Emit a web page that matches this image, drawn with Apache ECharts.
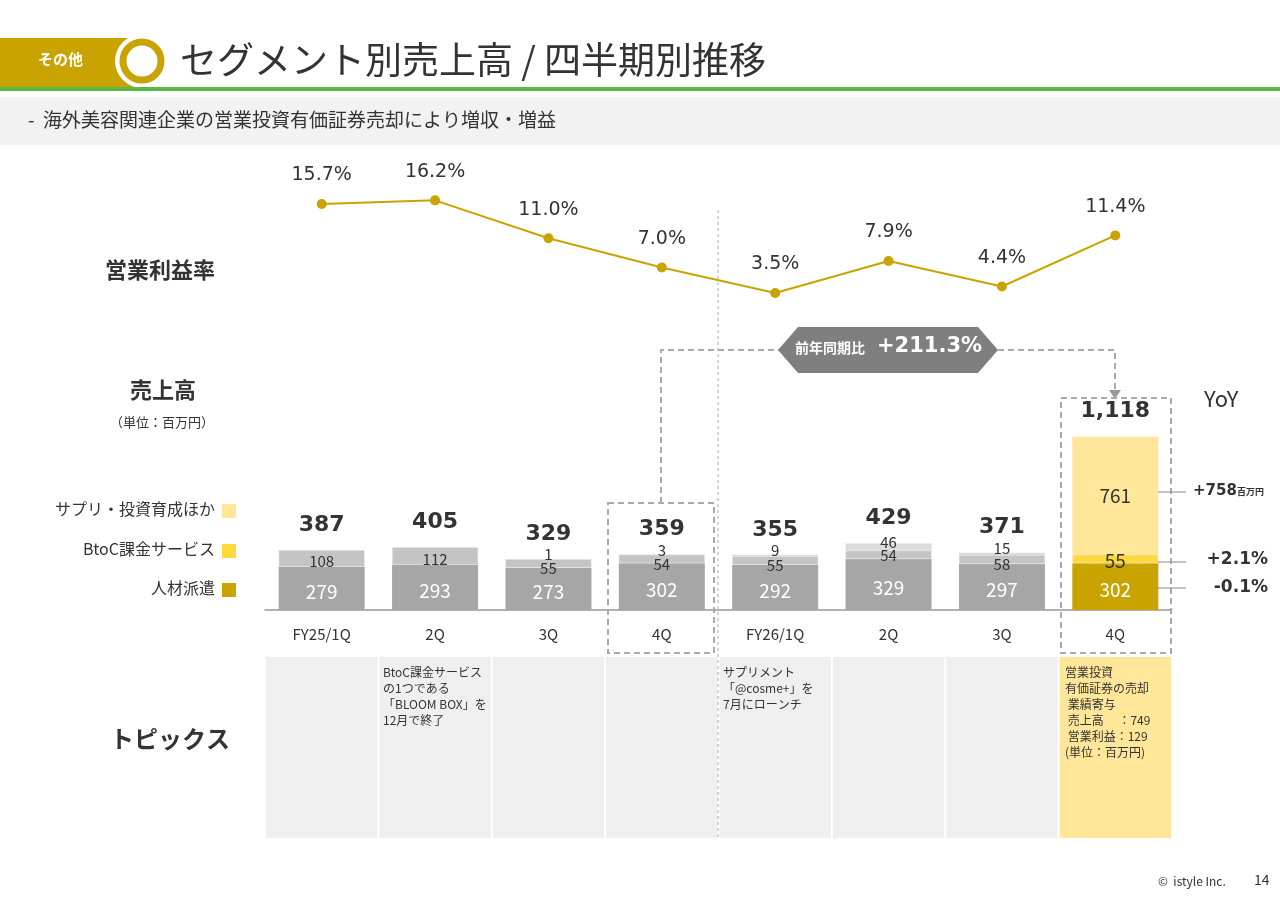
<!DOCTYPE html>
<html>
<head>
<meta charset="utf-8">
<title>セグメント別売上高</title>
<script src="https://cdn.jsdelivr.net/npm/echarts@6/dist/echarts.min.js"></script>
<style>
html,body{margin:0;padding:0;background:#fff;}
#main{width:1280px;height:904px;}
</style>
</head>
<body>
<div id="main"></div>
<script>
// データ
var quarters = ['FY25/1Q', '2Q', '3Q', '4Q', 'FY26/1Q', '2Q', '3Q', '4Q'];
var staffing = [279, 293, 273, 302, 292, 329, 297, 302];   // 人材派遣
var btoc = [108, 112, 55, 54, 55, 54, 58, 55];             // BtoC課金サービス
var supple = [0, 0, 1, 3, 9, 46, 15, 761];                 // サプリ・投資育成ほか
var totals = ['387', '405', '329', '359', '355', '429', '371', '1,118'];
var margin = [15.7, 16.2, 11.0, 7.0, 3.5, 7.9, 4.4, 11.4]; // 営業利益率(%)

var font = '"Noto Sans CJK JP", "Noto Sans", sans-serif';
var gold = '#c9a300';
var last = quarters.length - 1;
var chart = echarts.init(document.getElementById('main'));

var L = 265, R = 1172, colW = (R - L) / quarters.length;
function segColor(greys, golds) {
    return function(p) { return p.dataIndex === last ? golds : greys; };
}

// トピックス欄
var topicCells = [];
for (var i = 0; i < quarters.length; i++) {
    topicCells.push({
        type: 'rect', shape: {x: L + i * colW + 1, y: 657, width: colW - 2, height: 181},
        style: {fill: i === last ? '#ffe699' : '#efefef'}, z: 0
    });
}
var topicText = function(x, txt) {
    return {type: 'text', left: x, top: 664, z: 5,
        style: {text: txt, font: '12px ' + font, fill: '#333', lineHeight: 16}};
};

// サプリ系列：小さい値はバーの上、最終期は内側
var suppleData = supple.map(function(v, i) {
    if (i === last) return {value: v, label: {position: 'inside', fontSize: 19}};
    return {value: v, label: {position: 'top', distance: 0, offset: [0, supple[i] > 20 ? 6 : 3]}};
});
var btocData = btoc.map(function(v, i) {
    if (i === last) return {value: v, label: {fontSize: 19, offset: [0, 2]}};
    return {value: v, label: {offset: [0, supple[i] > 20 ? 0 : (supple[i] > 0 ? 5 : 3)]}};
});

var g = [
    // ヘッダー
    {type: 'rect', shape: {x: 0, y: 38, width: 135, height: 51}, style: {fill: gold}},
    {type: 'text', left: 38, top: 52, style: {text: 'その他', font: 'bold 15px ' + font, fill: '#fff'}},
    {type: 'circle', shape: {cx: 142, cy: 61, r: 27}, style: {fill: '#fff'}},
    {type: 'circle', shape: {cx: 142, cy: 61, r: 19}, style: {fill: '#fff', stroke: gold, lineWidth: 7}},
    {type: 'text', left: 180, top: 41, style: {text: 'セグメント別売上高 / 四半期別推移', font: '37px ' + font, fill: '#333'}},
    {type: 'rect', shape: {x: 0, y: 87, width: 1280, height: 4}, style: {fill: '#5ab946'}},
    {type: 'rect', shape: {x: 0, y: 97, width: 1280, height: 48}, style: {fill: '#f2f2f2'}},
    {type: 'text', left: 28, top: 110, style: {text: '-  海外美容関連企業の営業投資有価証券売却により増収・増益', font: '19px ' + font, fill: '#333'}},
    // 左側ラベル
    {type: 'text', left: 105, top: 259, style: {text: '営業利益率', font: 'bold 22px ' + font, fill: '#333'}},
    {type: 'text', left: 130, top: 379, style: {text: '売上高', font: 'bold 22px ' + font, fill: '#333'}},
    {type: 'text', left: 110, top: 416, style: {text: '（単位：百万円）', font: '13px ' + font, fill: '#333'}},
    {type: 'text', right: 1065, top: 501, style: {text: 'サプリ・投資育成ほか', font: '16px ' + font, fill: '#333'}},
    {type: 'rect', shape: {x: 222, y: 504, width: 14, height: 14}, style: {fill: '#ffe699'}},
    {type: 'text', right: 1065, top: 541, style: {text: 'BtoC課金サービス', font: '16px ' + font, fill: '#333'}},
    {type: 'rect', shape: {x: 222, y: 544, width: 14, height: 14}, style: {fill: '#ffd939'}},
    {type: 'text', right: 1065, top: 580, style: {text: '人材派遣', font: '16px ' + font, fill: '#333'}},
    {type: 'rect', shape: {x: 222, y: 583, width: 14, height: 14}, style: {fill: gold}},
    {type: 'text', left: 110, top: 727, style: {text: 'トピックス', font: 'bold 24px ' + font, fill: '#333'}},
    // 区切り線
    {type: 'line', shape: {x1: 718, y1: 210, x2: 718, y2: 838}, style: {stroke: '#aaa', lineWidth: 1, lineDash: [3, 3]}, z: 1},
    // 点線枠と前年同期比
    {type: 'rect', shape: {x: 608, y: 503, width: 106, height: 150}, style: {fill: 'none', stroke: '#aaa', lineWidth: 2, lineDash: [6, 4]}, z: 6},
    {type: 'rect', shape: {x: 1061, y: 398, width: 110, height: 255}, style: {fill: 'none', stroke: '#aaa', lineWidth: 2, lineDash: [6, 4]}, z: 6},
    {type: 'polyline', shape: {points: [[661, 503], [661, 350], [780, 350]]}, style: {fill: 'none', stroke: '#aaa', lineWidth: 2, lineDash: [6, 4]}},
    {type: 'polyline', shape: {points: [[998, 350], [1115, 350], [1115, 390]]}, style: {fill: 'none', stroke: '#aaa', lineWidth: 2, lineDash: [6, 4]}},
    {type: 'polygon', shape: {points: [[1109, 390], [1121, 390], [1115, 399]]}, style: {fill: '#999'}},
    {type: 'polygon', shape: {points: [[778, 350], [798, 327], [978, 327], [998, 350], [978, 373], [798, 373]]}, style: {fill: '#7f7f7f'}},
    {type: 'text', left: 795, top: 341, style: {text: '前年同期比', font: 'bold 14px ' + font, fill: '#fff'}},
    {type: 'text', left: 877, top: 336, style: {text: '+211.3%', font: 'bold 21px "DejaVu Sans", sans-serif', fill: '#fff'}},
    // YoY
    {type: 'text', left: 1204, top: 388, style: {text: 'YoY', font: '22px ' + font, fill: '#333'}},
    {type: 'line', shape: {x1: 1158, y1: 492, x2: 1186, y2: 492}, style: {stroke: '#888', lineWidth: 1}, z: 7},
    {type: 'line', shape: {x1: 1158, y1: 562, x2: 1186, y2: 562}, style: {stroke: '#888', lineWidth: 1}, z: 7},
    {type: 'line', shape: {x1: 1158, y1: 588, x2: 1186, y2: 588}, style: {stroke: '#888', lineWidth: 1}, z: 7},
    {type: 'text', left: 1193, top: 484, style: {rich: {a: {font: 'bold 15px "DejaVu Sans", sans-serif', fill: '#333'}, b: {font: 'bold 9px ' + font, fill: '#333'}}, text: '{a|+758}{b|百万円}'}},
    {type: 'text', right: 12, top: 551, style: {text: '+2.1%', font: 'bold 17px "DejaVu Sans", sans-serif', fill: '#333'}},
    {type: 'text', right: 12, top: 579, style: {text: '-0.1%', font: 'bold 17px "DejaVu Sans", sans-serif', fill: '#333'}},
    // トピックス
    topicText(383, 'BtoC課金サービス\nの1つである\n「BLOOM BOX」を\n12月で終了'),
    topicText(723, 'サプリメント\n「@cosme+」を\n7月にローンチ'),
    topicText(1065, '営業投資\n有価証券の売却\n 業績寄与\n 売上高　 ：749\n 営業利益：129\n(単位：百万円)'),
    {type: 'text', left: 1158, top: 875, style: {text: '©  istyle Inc.', font: '12px ' + font, fill: '#333'}},
    {type: 'text', left: 1254, top: 873, style: {text: '14', font: '14px ' + font, fill: '#333'}}
].concat(topicCells);

var option = {
    animation: false,
    textStyle: {fontFamily: font},
    graphic: g,
    grid: [
        {left: L, width: R - L, top: 424, height: 186},
        {left: L, width: R - L, top: 158, height: 160.6}
    ],
    xAxis: [
        {type: 'category', gridIndex: 0, data: quarters, axisTick: {show: false},
            axisLine: {lineStyle: {color: '#999', width: 1.5}},
            axisLabel: {margin: 17, fontSize: 15, color: '#333'}},
        {type: 'category', gridIndex: 1, data: quarters, show: false}
    ],
    yAxis: [
        {type: 'value', gridIndex: 0, min: 0, max: 1200, show: false},
        {type: 'value', gridIndex: 1, min: 0, max: 22, show: false}
    ],
    series: [
        {name: '人材派遣', type: 'bar', stack: 's', barWidth: 86, data: staffing,
            itemStyle: {color: segColor('#a6a6a6', gold)},
            label: {show: true, position: 'inside', offset: [0, 3], fontSize: 19, color: '#fff'}},
        {name: 'BtoC課金サービス', type: 'bar', stack: 's', data: btocData,
            itemStyle: {color: segColor('#c4c4c4', '#ffd939'), borderColor: '#e8e8e8', borderWidth: 0.5},
            label: {show: true, position: 'inside', fontSize: 15, color: '#333'}},
        {name: 'サプリ・投資育成ほか', type: 'bar', stack: 's', data: suppleData,
            itemStyle: {color: segColor('#dcdcdc', '#ffe699')},
            label: {show: true, fontSize: 15, color: '#333',
                formatter: function(p) { return p.value ? String(p.value) : ''; }}},
        {name: 'total', type: 'bar', stack: 's', data: [0, 0, 0, 0, 0, 0, 0, 0],
            label: {show: true, position: 'top', distance: 14, fontSize: 22, fontWeight: 'bold', color: '#333',
                fontFamily: '"DejaVu Sans", sans-serif',
                formatter: function(p) { return totals[p.dataIndex]; }}},
        {name: '営業利益率', type: 'line', xAxisIndex: 1, yAxisIndex: 1, data: margin,
            symbol: 'circle', symbolSize: 10, lineStyle: {color: gold, width: 2}, itemStyle: {color: gold},
            label: {show: true, position: 'top', distance: 14, fontSize: 19, color: '#333',
                fontFamily: '"DejaVu Sans", sans-serif',
                formatter: function(p) { return p.value.toFixed(1) + '%'; }}}
    ]
};
chart.setOption(option);
</script>
</body>
</html>
